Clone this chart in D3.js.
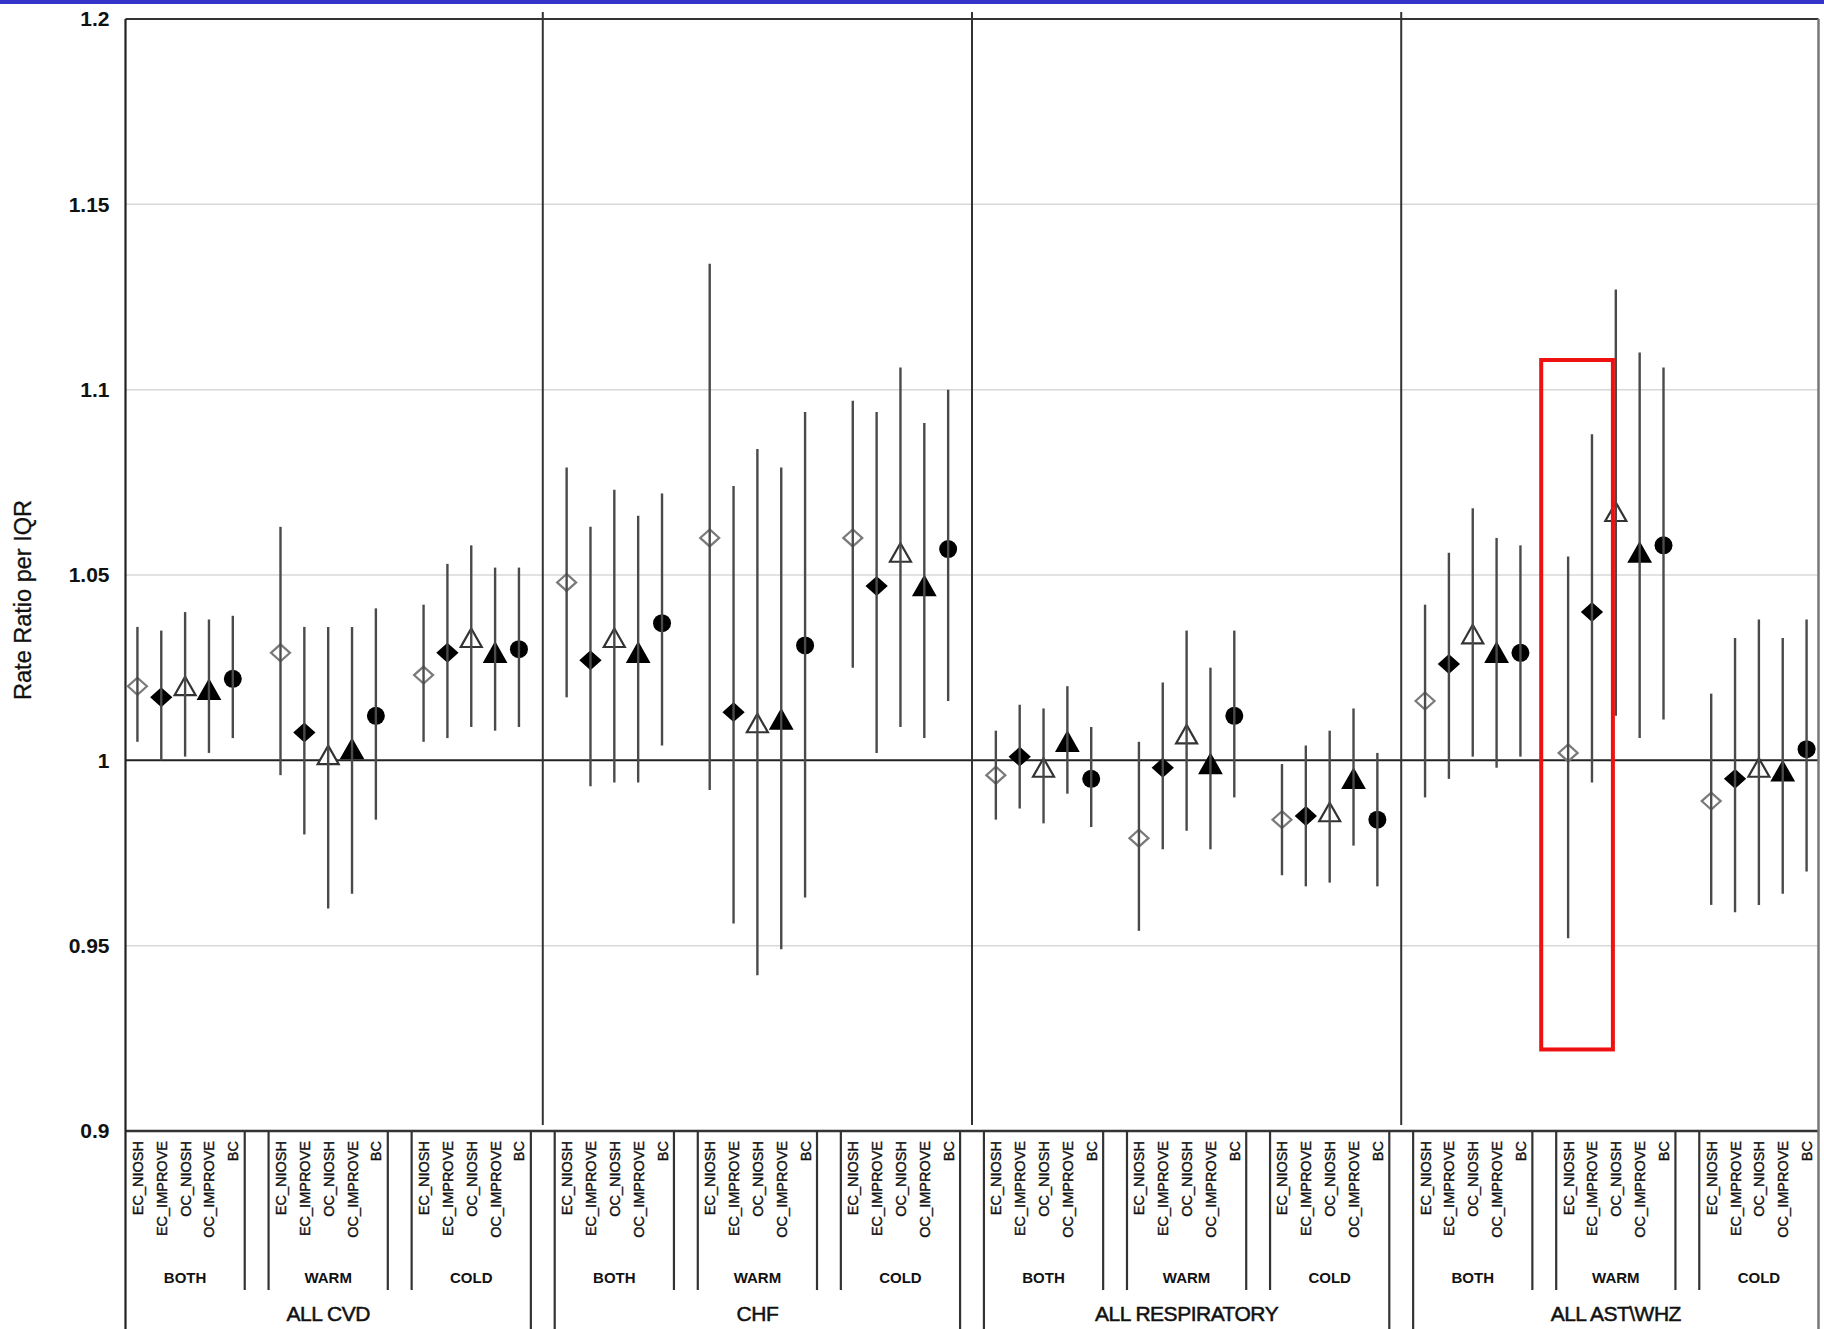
<!DOCTYPE html>
<html>
<head>
<meta charset="utf-8">
<script src="https://cdn.jsdelivr.net/npm/d3@7/dist/d3.min.js"></script>
<style>
  body { margin: 0; background: #fff; }
  svg text { font-family: "Liberation Sans", Arial, sans-serif; fill: #111; }
</style>
</head>
<body>
<div id="chart"></div>
<script>
// category levels of the x axis
const outcomes = ["ALL CVD", "CHF", "ALL RESPIRATORY", "ALL AST\\WHZ"];
const seasons = ["BOTH", "WARM", "COLD"];
const metrics = ["EC_NIOSH", "EC_IMPROVE", "OC_NIOSH", "OC_IMPROVE", "BC"];

// rate ratio per IQR, lower and upper CI; order: BOTH, WARM, COLD x metrics
const cvdRR = [1.020, 1.017, 1.020, 1.019, 1.022,  1.029, 1.0075, 1.0014, 1.003, 1.012,  1.023, 1.029, 1.033, 1.029, 1.030];
const cvdLo = [1.005, 1.000, 1.001, 1.002, 1.006,  0.996, 0.980, 0.960, 0.964, 0.984,  1.005, 1.006, 1.009, 1.008, 1.009];
const cvdHi = [1.036, 1.035, 1.040, 1.038, 1.039,  1.063, 1.036, 1.036, 1.036, 1.041,  1.042, 1.053, 1.058, 1.052, 1.052];

const chfRR = [1.048, 1.027, 1.033, 1.029, 1.037,  1.060, 1.013, 1.010, 1.011, 1.031,  1.060, 1.047, 1.056, 1.047, 1.057];
const chfLo = [1.017, 0.993, 0.994, 0.994, 1.004,  0.992, 0.956, 0.942, 0.949, 0.963,  1.025, 1.002, 1.009, 1.006, 1.016];
const chfHi = [1.079, 1.063, 1.073, 1.066, 1.072,  1.134, 1.074, 1.084, 1.079, 1.094,  1.097, 1.094, 1.106, 1.091, 1.100];

const respRR = [0.996, 1.001, 0.998, 1.005, 0.995,  0.979, 0.998, 1.007, 0.999, 1.012,  0.984, 0.985, 0.986, 0.995, 0.984];
const respLo = [0.984, 0.987, 0.983, 0.991, 0.982,  0.954, 0.976, 0.981, 0.976, 0.990,  0.969, 0.966, 0.967, 0.977, 0.966];
const respHi = [1.008, 1.015, 1.014, 1.020, 1.009,  1.005, 1.021, 1.035, 1.025, 1.035,  0.999, 1.004, 1.008, 1.014, 1.002];

const astRR = [1.016, 1.026, 1.034, 1.029, 1.029,  1.002, 1.040, 1.067, 1.056, 1.058,  0.989, 0.995, 0.998, 0.997, 1.003];
const astLo = [0.990, 0.995, 1.001, 0.998, 1.001,  0.952, 0.994, 1.012, 1.006, 1.011,  0.961, 0.959, 0.961, 0.964, 0.970];
const astHi = [1.042, 1.056, 1.068, 1.060, 1.058,  1.055, 1.088, 1.127, 1.110, 1.106,  1.018, 1.033, 1.038, 1.033, 1.038];

const yTicks = [0.9, 0.95, 1, 1.05, 1.1, 1.15, 1.2];
const gridTicks = [0.95, 1.05, 1.1, 1.15];

// red box drawn on the figure around two AST\WHZ warm estimates
const highlightSlots = ["ALL AST\\WHZ|WARM|EC_NIOSH", "ALL AST\\WHZ|WARM|EC_IMPROVE"];
const highlightRange = [0.922, 1.108];

const seriesByOutcome = [
  [cvdRR, cvdLo, cvdHi],
  [chfRR, chfLo, chfHi],
  [respRR, respLo, respHi],
  [astRR, astLo, astHi]
];

// build slot list: 5 metrics per season, a blank slot after each season group
const slots = [];
const points = [];
outcomes.forEach((o, oi) => {
  seasons.forEach((s, si) => {
    metrics.forEach((m, mi) => {
      const key = o + "|" + s + "|" + m;
      slots.push(key);
      const [rr, lo, hi] = seriesByOutcome[oi];
      const k = si * 5 + mi;
      points.push({ key, outcome: o, season: s, metric: m, rr: rr[k], lo: lo[k], hi: hi[k] });
    });
    if (!(oi === outcomes.length - 1 && si === seasons.length - 1)) {
      slots.push("blank-" + oi + "-" + si);
    }
  });
});

const width = 1824, height = 1329;
const svg = d3.select("#chart").append("svg")
  .attr("width", width)
  .attr("height", height);

svg.append("rect").attr("width", width).attr("height", height).attr("fill", "#fff");
// blue strip along the top edge
svg.append("rect").attr("x", 0).attr("y", 0).attr("width", width).attr("height", 4).attr("fill", "#3434c8");

const x = d3.scaleBand().domain(slots).range([125.5, 1818.5]).padding(0);
const y = d3.scaleLinear().domain([0.9, 1.2]).range([1131, 19]);
const bw = x.bandwidth();
const cx = key => x(key) + bw / 2;

const left = x.range()[0], right = x.range()[1];

// light gridlines
svg.selectAll(".grid")
  .data(gridTicks)
  .enter()
  .append("line")
  .attr("x1", left).attr("x2", right)
  .attr("y1", d => y(d)).attr("y2", d => y(d))
  .attr("stroke", "#d8d8d8")
  .attr("stroke-width", 1.5);

// reference line at 1
svg.append("line")
  .attr("x1", left).attr("x2", right)
  .attr("y1", y(1)).attr("y2", y(1))
  .attr("stroke", "#222").attr("stroke-width", 2);

// top border and bottom axis line
svg.append("line")
  .attr("x1", left).attr("x2", right)
  .attr("y1", y(1.2)).attr("y2", y(1.2))
  .attr("stroke", "#333").attr("stroke-width", 2);
svg.append("line")
  .attr("x1", left).attr("x2", right)
  .attr("y1", y(0.9)).attr("y2", y(0.9))
  .attr("stroke", "#333").attr("stroke-width", 2.5);

// left axis and right border
svg.append("line")
  .attr("x1", left).attr("x2", left)
  .attr("y1", y(1.2)).attr("y2", height)
  .attr("stroke", "#222").attr("stroke-width", 2.2);
svg.append("line")
  .attr("x1", right).attr("x2", right)
  .attr("y1", y(1.2)).attr("y2", height)
  .attr("stroke", "#777").attr("stroke-width", 2.5);

// panel dividers through the blank slot between outcomes
const dividerKeys = slots.filter(k => /^blank-\d-2$/.test(k));
svg.selectAll(".divider")
  .data(dividerKeys)
  .enter()
  .append("line")
  .attr("x1", d => cx(d)).attr("x2", d => cx(d))
  .attr("y1", 12).attr("y2", y(0.9) - 6)
  .attr("stroke", "#333").attr("stroke-width", 2);

// y axis labels
const yAxis = svg.append("g")
  .attr("transform", `translate(${left},0)`)
  .call(d3.axisLeft(y).tickValues(yTicks).tickSize(0).tickPadding(16).tickFormat(d3.format("~g")));
yAxis.select(".domain").remove();
yAxis.selectAll("text")
  .style("font-family", "'Liberation Sans', Arial, sans-serif")
  .style("font-size", "21px")
  .style("font-weight", "bold")
  .attr("fill", "#222");

svg.append("text")
  .attr("transform", `translate(31,600) rotate(-90)`)
  .attr("text-anchor", "middle")
  .style("font-size", "23.5px")
  .attr("stroke", "#111").attr("stroke-width", 0.3)
  .text("Rate Ratio per IQR");

// marker shapes per metric
const diamond = "M0,-8.5L9.5,0L0,8.5L-9.5,0Z";
const triangle = "M0,-9.5L10.5,9L-10.5,9Z";
const markerStyle = {
  EC_NIOSH:   { path: diamond,  fill: "#fff", stroke: "#7a7a7a" },
  EC_IMPROVE: { path: diamond,  fill: "#000", stroke: "#000" },
  OC_NIOSH:   { path: triangle, fill: "#fff", stroke: "#333" },
  OC_IMPROVE: { path: triangle, fill: "#000", stroke: "#000" },
  BC:         { path: null,     fill: "#000", stroke: "#000" }
};

const marks = svg.selectAll(".mark")
  .data(points)
  .enter()
  .append("g")
  .attr("class", "mark")
  .attr("transform", d => `translate(${cx(d.key)},${y(d.rr)})`);

marks.filter(d => d.metric !== "BC")
  .append("path")
  .attr("d", d => markerStyle[d.metric].path)
  .attr("fill", d => markerStyle[d.metric].fill)
  .attr("stroke", d => markerStyle[d.metric].stroke)
  .attr("stroke-width", 2.2);

marks.filter(d => d.metric === "BC")
  .append("circle")
  .attr("r", 9)
  .attr("fill", "#000");

// confidence intervals
svg.selectAll(".ci")
  .data(points)
  .enter()
  .append("line")
  .attr("x1", d => cx(d.key)).attr("x2", d => cx(d.key))
  .attr("y1", d => y(d.hi)).attr("y2", d => y(d.lo))
  .attr("stroke", "#4a4a4a")
  .attr("stroke-width", 2.4);

// category axis: metric labels
const axisTop = y(0.9);
svg.selectAll(".metricLabel")
  .data(points)
  .enter()
  .append("text")
  .attr("transform", d => `translate(${cx(d.key) + 5.5},${axisTop + 10}) rotate(-90)`)
  .attr("text-anchor", "end")
  .style("font-size", "14.5px")
  .attr("stroke", "#111").attr("stroke-width", 0.4)
  .text(d => d.metric);

// season group labels and separator lines
const groups = [];
outcomes.forEach((o, oi) => {
  seasons.forEach((s, si) => {
    const first = o + "|" + s + "|" + metrics[0];
    const last = o + "|" + s + "|" + metrics[metrics.length - 1];
    groups.push({ o, oi, s, si, x0: x(first), x1: x(last) + bw });
  });
});

svg.selectAll(".seasonLabel")
  .data(groups)
  .enter()
  .append("text")
  .attr("x", d => (d.x0 + d.x1) / 2)
  .attr("y", 1283)
  .attr("text-anchor", "middle")
  .style("font-size", "15px")
  .style("font-weight", "bold")
  .text(d => d.s);

const sepLines = [];
groups.forEach(g => {
  if (!(g.oi === 0 && g.si === 0)) sepLines.push({ x: g.x0, long: g.si === 0 });
  if (!(g.oi === outcomes.length - 1 && g.si === 2)) sepLines.push({ x: g.x1, long: g.si === 2 });
});
svg.selectAll(".sep")
  .data(sepLines)
  .enter()
  .append("line")
  .attr("x1", d => d.x).attr("x2", d => d.x)
  .attr("y1", axisTop).attr("y2", d => d.long ? height : 1290)
  .attr("stroke", "#333").attr("stroke-width", 2.2);

// outcome labels
const outcomeCenters = outcomes.map(o => {
  const first = o + "|" + seasons[0] + "|" + metrics[0];
  const last = o + "|" + seasons[2] + "|" + metrics[4];
  return { o, c: (x(first) + x(last) + bw) / 2 };
});
svg.selectAll(".outcomeLabel")
  .data(outcomeCenters)
  .enter()
  .append("text")
  .attr("x", d => d.c)
  .attr("y", 1321)
  .attr("text-anchor", "middle")
  .style("font-size", "21px")
  .attr("stroke", "#111").attr("stroke-width", 0.5)
  .attr("letter-spacing", "-0.5")
  .text(d => d.o);

// highlight box
const hx0 = x(highlightSlots[0]) - 15;
const hx1 = x(highlightSlots[1]) + bw + 9;
svg.append("rect")
  .attr("x", hx0)
  .attr("y", y(highlightRange[1]))
  .attr("width", hx1 - hx0)
  .attr("height", y(highlightRange[0]) - y(highlightRange[1]))
  .attr("fill", "none")
  .attr("stroke", "#ee1111")
  .attr("stroke-width", 4);
</script>
</body>
</html>
